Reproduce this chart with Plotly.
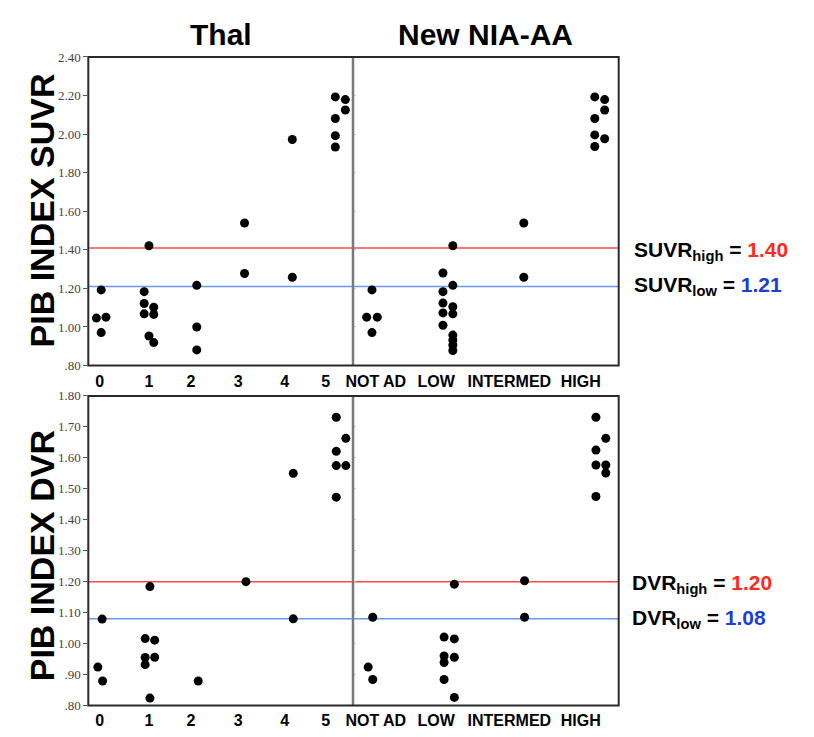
import plotly.graph_objects as go

# ---------------- data ----------------
thal_categories = ["0", "1", "2", "3", "4", "5"]
nia_categories = ["NOT AD", "LOW", "INTERMED", "HIGH"]

thal_suvr = [
    [1.046, 1.192, 1.051, 0.971],
    [1.421, 1.183, 1.122, 1.102, 1.068, 1.065, 0.953, 0.919],
    [1.216, 1.000, 0.881],
    [1.539, 1.277],
    [1.972, 1.258],
    [2.193, 2.179, 2.125, 2.081, 1.992, 1.933],
]
thal_suvr_jitter = [
    [-0.1, 0.0, 0.1, 0.0],
    [0.0, -0.1, -0.1, 0.1, -0.1, 0.1, 0.0, 0.1],
    [0.0, 0.0, 0.0],
    [0.0, 0.0],
    [0.0, 0.0],
    [-0.1, 0.11, 0.11, -0.1, -0.1, -0.1],
]
nia_suvr = [
    [1.192, 1.051, 1.051, 0.971],
    [1.280, 1.183, 1.124, 1.073, 1.009, 1.421, 1.216, 1.105, 1.068, 0.958, 0.932, 0.907, 0.878],
    [1.539, 1.258],
    [2.193, 2.081, 1.996, 1.936, 2.179, 2.125, 1.976],
]
nia_suvr_jitter = [
    [0.0, -0.07, 0.07, 0.0],
    [-0.065, -0.065, -0.065, -0.065, -0.065, 0.065, 0.065, 0.065, 0.065, 0.065, 0.065, 0.065, 0.065],
    [0.0, 0.0],
    [-0.065, -0.065, -0.065, -0.065, 0.065, 0.065, 0.065],
]
thal_dvr = [
    [1.079, 0.924, 0.879],
    [1.184, 1.016, 1.011, 0.955, 0.956, 0.932, 0.824],
    [0.879],
    [1.200],
    [1.550, 1.080],
    [1.731, 1.621, 1.575, 1.473, 1.663, 1.575],
]
thal_dvr_jitter = [
    [0.02, -0.07, 0.03],
    [0.02, -0.08, 0.12, -0.08, 0.12, -0.08, 0.02],
    [0.03],
    [0.03],
    [0.02, 0.02],
    [-0.08, -0.08, -0.08, -0.08, 0.12, 0.12],
]
nia_dvr = [
    [1.085, 0.924, 0.884],
    [1.021, 0.960, 0.939, 0.884, 1.192, 1.015, 0.956, 0.826],
    [1.203, 1.085],
    [1.731, 1.625, 1.577, 1.475, 1.663, 1.577, 1.551],
]
nia_dvr_jitter = [
    [0.01, -0.05, 0.01],
    [-0.05, -0.05, -0.05, -0.05, 0.085, 0.085, 0.085, 0.085],
    [0.01, 0.01],
    [-0.05, -0.05, -0.05, -0.05, 0.08, 0.08, 0.08],
]

suvr_cut_lines = [1.41, 1.21]      # drawn line levels (high, low)
suvr_cut_labels = ["1.40", "1.21"]
dvr_cut_lines = [1.20, 1.08]
dvr_cut_labels = ["1.20", "1.08"]

suvr_ticks = [0.8, 1.0, 1.2, 1.4, 1.6, 1.8, 2.0, 2.2, 2.4]
suvr_ticktext = [".80", "1.00", "1.20", "1.40", "1.60", "1.80", "2.00", "2.20", "2.40"]
dvr_ticks = [0.8, 0.9, 1.0, 1.1, 1.2, 1.3, 1.4, 1.5, 1.6, 1.7, 1.8]
dvr_ticktext = [".80", ".90", "1.00", "1.10", "1.20", "1.30", "1.40", "1.50", "1.60", "1.70", "1.80"]

# ---------------- layout constants ----------------
W, H = 814, 737
X_L, X_M, X_R = 82, 349, 617
TOP_T, TOP_B = 51, 366
BOT_T, BOT_B = 397, 713


def px(x):
    return x / W


def py(y):
    return 1 - y / H


# tick label placements (labels in the reference sit slightly left of the columns)
thal_label_pos = [-0.03, 1.0, 1.88, 2.87, 3.84, 4.70]
nia_label_pos = [0.05, 0.845, 1.81, 2.75]

RED_LINE = "#ff4a4a"
BLUE_LINE = "#6a98ee"
RED_TXT = "#ff2a1a"
BLUE_TXT = "#1b3fd4"

fig = go.Figure()


def add_points(values, jitter, xa, ya):
    xs, ys = [], []
    for i, (vals, jit) in enumerate(zip(values, jitter)):
        for v, j in zip(vals, jit):
            xs.append(i + j)
            ys.append(v)
    fig.add_trace(go.Scatter(
        x=xs, y=ys, mode="markers", xaxis=xa, yaxis=ya,
        marker=dict(color="black", size=9, line=dict(width=0)),
        showlegend=False, hoverinfo="y",
    ))


# threshold lines first (so dots sit on top)
for ya, levels, cols in [("y", suvr_cut_lines, [RED_LINE, BLUE_LINE]),
                         ("y3", dvr_cut_lines, [RED_LINE, BLUE_LINE])]:
    for lv, c in zip(levels, cols):
        fig.add_shape(type="line", xref="paper", yref=ya,
                      x0=px(X_L), x1=px(X_R), y0=lv, y1=lv,
                      line=dict(color=c, width=1.5), layer="below")

add_points(thal_suvr, thal_suvr_jitter, "x", "y")
add_points(nia_suvr, nia_suvr_jitter, "x2", "y2")
add_points(thal_dvr, thal_dvr_jitter, "x3", "y3")
add_points(nia_dvr, nia_dvr_jitter, "x4", "y4")

xfont = dict(family="Liberation Sans, Arial, sans-serif", size=16, color="black")
yfont = dict(family="Liberation Serif, Times New Roman, serif", size=13, color="#444")

thal_ticktext = ["<b>%s</b>" % c for c in thal_categories]
nia_ticktext = ["<b>%s</b>" % c for c in nia_categories]

common_x = dict(showgrid=False, zeroline=False, showline=False, ticks="", tickfont=xfont,
                ticklabelstandoff=4, fixedrange=True)

fig.update_layout(
    width=W, height=H,
    margin=dict(l=0, r=0, t=0, b=0),
    paper_bgcolor="white", plot_bgcolor="white",
    xaxis=dict(domain=[px(X_L), px(X_M)], range=[-0.27, 5.27], anchor="y",
               tickvals=thal_label_pos, ticktext=thal_ticktext, **common_x),
    xaxis2=dict(domain=[px(X_M), px(X_R)], range=[-0.25, 3.25], anchor="y2",
                tickvals=nia_label_pos, ticktext=nia_ticktext, **common_x),
    xaxis3=dict(domain=[px(X_L), px(X_M)], range=[-0.27, 5.27], anchor="y3",
                tickvals=thal_label_pos, ticktext=thal_ticktext, **common_x),
    xaxis4=dict(domain=[px(X_M), px(X_R)], range=[-0.25, 3.25], anchor="y4",
                tickvals=nia_label_pos, ticktext=nia_ticktext, **common_x),
    yaxis=dict(domain=[py(TOP_B), py(TOP_T)], range=[0.8, 2.4], anchor="x",
               tickvals=suvr_ticks, ticktext=suvr_ticktext, tickfont=yfont,
               ticks="outside", ticklen=4, tickcolor="#555", showgrid=False,
               zeroline=False, showline=False),
    yaxis2=dict(domain=[py(TOP_B), py(TOP_T)], range=[0.8, 2.4], anchor="x2",
                tickvals=suvr_ticks, showticklabels=False, ticks="inside",
                ticklen=3, tickcolor="#c8c8c8", showgrid=False, zeroline=False,
                showline=False),
    yaxis3=dict(domain=[py(BOT_B), py(BOT_T)], range=[0.8, 1.8], anchor="x3",
                tickvals=dvr_ticks, ticktext=dvr_ticktext, tickfont=yfont,
                ticks="outside", ticklen=4, tickcolor="#555", showgrid=False,
                zeroline=False, showline=False),
    yaxis4=dict(domain=[py(BOT_B), py(BOT_T)], range=[0.8, 1.8], anchor="x4",
                tickvals=dvr_ticks, showticklabels=False, ticks="inside",
                ticklen=3, tickcolor="#c8c8c8", showgrid=False, zeroline=False,
                showline=False),
)

# panel frames and dividers
for (t, b) in [(TOP_T, TOP_B), (BOT_T, BOT_B)]:
    fig.add_shape(type="line", xref="paper", yref="paper",
                  x0=px(X_M), x1=px(X_M), y0=py(b), y1=py(t),
                  line=dict(color="#7a7a7a", width=2.5))
    fig.add_shape(type="rect", xref="paper", yref="paper",
                  x0=px(X_L), x1=px(X_R), y0=py(b), y1=py(t),
                  line=dict(color="#2a2a2a", width=2))

title_font = dict(family="Liberation Sans, Arial, sans-serif", size=30, color="black")
fig.add_annotation(text="<b>Thal</b>", x=px((X_L + X_M) / 2), y=py(28), xref="paper",
                   yref="paper", showarrow=False, font=title_font,
                   xanchor="center", yanchor="middle")
fig.add_annotation(text="<b>New NIA-AA</b>", x=px((X_M + X_R) / 2), y=py(28), xref="paper",
                   yref="paper", showarrow=False, font=title_font,
                   xanchor="center", yanchor="middle")

ytitle_font = dict(family="Liberation Sans, Arial, sans-serif", size=34, color="black")
fig.add_annotation(text="<b>PIB INDEX SUVR</b>", x=px(35), y=py(208), xref="paper",
                   yref="paper", showarrow=False, font=ytitle_font, textangle=-90,
                   xanchor="center", yanchor="middle")
fig.add_annotation(text="<b>PIB INDEX DVR</b>", x=px(35), y=py(560), xref="paper",
                   yref="paper", showarrow=False, font=ytitle_font, textangle=-90,
                   xanchor="center", yanchor="middle")

lab_font = dict(family="Liberation Sans, Arial, sans-serif", size=21, color="black")
labels = [
    ("SUVR", "high", suvr_cut_labels[0], RED_TXT, 630, 249),
    ("SUVR", "low", suvr_cut_labels[1], BLUE_TXT, 630, 285),
    ("DVR", "high", dvr_cut_labels[0], RED_TXT, 628, 589),
    ("DVR", "low", dvr_cut_labels[1], BLUE_TXT, 628, 625),
]
for name, sub, val, col, lx, ly in labels:
    fig.add_annotation(
        text="<b>%s<sub>%s</sub> = <span style='color:%s'>%s</span></b>" % (name, sub, col, val),
        x=px(lx), y=py(ly), xref="paper", yref="paper", showarrow=False,
        font=lab_font, xanchor="left", yanchor="middle", align="left")

fig.write_html("out.html")
